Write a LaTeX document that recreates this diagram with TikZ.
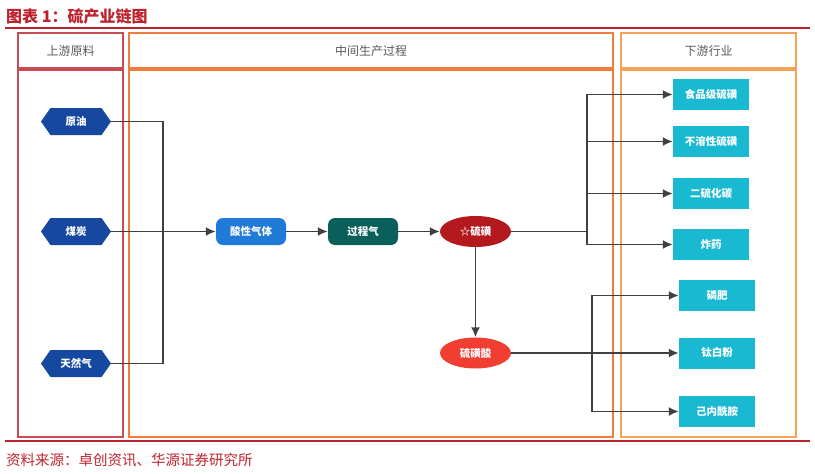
\documentclass[tikz,border=0pt]{standalone}
\usepackage{fontspec}
\usepackage{xcolor}
\usetikzlibrary{arrows.meta,positioning,shapes.geometric,shapes.symbols}
\newfontfamily\cjk{Noto Sans CJK SC}
\definecolor{titlered}{RGB}{190,35,45}
\definecolor{colred}{RGB}{200,75,85}
\definecolor{colorange}{RGB}{240,125,60}
\definecolor{collight}{RGB}{246,162,85}
\definecolor{hexblue}{RGB}{22,72,160}
\definecolor{acidblue}{RGB}{32,122,215}
\definecolor{gasteal}{RGB}{10,95,90}
\definecolor{sulfurred}{RGB}{180,25,30}
\definecolor{acidred}{RGB}{240,62,50}
\definecolor{prodcyan}{RGB}{25,185,210}
\definecolor{linkgrey}{RGB}{64,64,64}
\tikzset{
  headbox/.style={
    rectangle,
    line width=2pt,
    minimum height=35pt,
    text=black!65,
    font={\cjk\fontsize{12}{14}\selectfont}
  },
  rawhex/.style={
    signal,
    signal to=west and east,
    signal pointer angle=110,
    fill=hexblue,
    text=white,
    minimum width=70pt,
    minimum height=27pt,
    inner sep=0pt,
    font={\cjk\bfseries\fontsize{10.5}{12}\selectfont}
  },
  stepbox/.style={
    rectangle,
    rounded corners=7pt,
    text=white,
    minimum width=70pt,
    minimum height=27pt,
    inner sep=0pt,
    font={\cjk\bfseries\fontsize{10.5}{12}\selectfont}
  },
  sulfurball/.style={
    ellipse,
    text=white,
    minimum width=71pt,
    minimum height=31pt,
    inner sep=0pt,
    font={\cjk\bfseries\fontsize{10.5}{12}\selectfont}
  },
  prodbox/.style={
    rectangle,
    fill=prodcyan,
    text=white,
    minimum width=76pt,
    minimum height=31pt,
    inner sep=0pt,
    font={\cjk\bfseries\fontsize{10.5}{12}\selectfont}
  },
  linkline/.style={
    line width=1.8pt,
    draw=linkgrey
  },
  flowarrow/.style={
    linkline,
    -{Latex[length=10pt,width=9pt]}
  }
}

\begin{document}
\begin{tikzpicture}[x=1pt,y=-1pt]
\useasboundingbox (0,0) rectangle (815,474);

% title and rules
\node[anchor=west, inner sep=0pt, text=titlered, font={\cjk\bfseries\fontsize{16}{18}\selectfont}] (title) at (6,16) {图表 1：硫产业链图};
\draw[titlered, line width=1.8pt] (5,28) -- (810,28);
\draw[titlered, line width=1.8pt] (5,441) -- (810,441);
\node[anchor=west, inner sep=0pt, text=titlered, font={\cjk\fontsize{14.5}{16}\selectfont}] (source) at (6,460) {资料来源：卓创资讯、华源证券研究所};

% columns
\node[headbox, draw=colred, minimum width=105pt] (uphead) at (70.5,50.5) {上游原料};
\node[headbox, draw=colorange, minimum width=484pt] (midhead) at (371,50.5) {中间生产过程};
\node[headbox, draw=collight, minimum width=175pt] (downhead) at (708.5,50.5) {下游行业};
\draw[colred, line width=2pt] (18,70) rectangle (123,437);
\draw[colorange, line width=2pt] (129,70) rectangle (613,437);
\draw[collight, line width=2pt] (621,70) rectangle (796,437);

% raw materials
\node[rawhex] (crude) at (76,121.5) {原油};
\node[rawhex] (coal) at (76,231.5) {煤炭};
\node[rawhex] (natgas) at (76,363.5) {天然气};

% process
\node[stepbox, fill=acidblue] (acidgas) at (251,231.5) {酸性气体};
\node[stepbox, fill=gasteal] (procgas) at (363,231.5) {过程气};
\node[sulfurball, fill=sulfurred] (sulfur) at (475.5,231.5) {☆硫磺};
\node[sulfurball, fill=acidred] (sacid) at (475.5,353) {硫磺酸};

% products
\node[prodbox] (food) at (711,94.5) {食品级硫磺};
\node[prodbox] (insol) at (711,141.5) {不溶性硫磺};
\node[prodbox] (cs2) at (711,193.5) {二硫化碳};
\node[prodbox] (explo) at (711,244.5) {炸药};
\node[prodbox] (phos) at (717,295.5) {磷肥};
\node[prodbox] (tio2) at (717,353) {钛白粉};
\node[prodbox] (capro) at (717,411.5) {己内酰胺};

\coordinate (merge) at (163,231.5);
\coordinate (splitA) at (587,231.5);
\coordinate (splitB) at (592,353);

\draw[linkline] (crude.east) -| (merge);
\draw[linkline] (natgas.east) -| (merge);
\draw[flowarrow] (coal.east) -- (acidgas.west);
\draw[flowarrow] (acidgas.east) -- (procgas.west);
\draw[flowarrow] (procgas.east) -- (sulfur.west);
\draw[flowarrow] (sulfur.south) -- (sacid.north);
\draw[linkline] (sulfur.east) -- (splitA);
\draw[flowarrow] (splitA) |- (food.west);
\draw[flowarrow] (splitA) |- (insol.west);
\draw[flowarrow] (splitA) |- (cs2.west);
\draw[flowarrow] (splitA) |- (explo.west);
\draw[linkline] (sacid.east) -- (splitB);
\draw[flowarrow] (splitB) |- (phos.west);
\draw[flowarrow] (splitB) -- (tio2.west);
\draw[flowarrow] (splitB) |- (capro.west);
\end{tikzpicture}
\end{document}
